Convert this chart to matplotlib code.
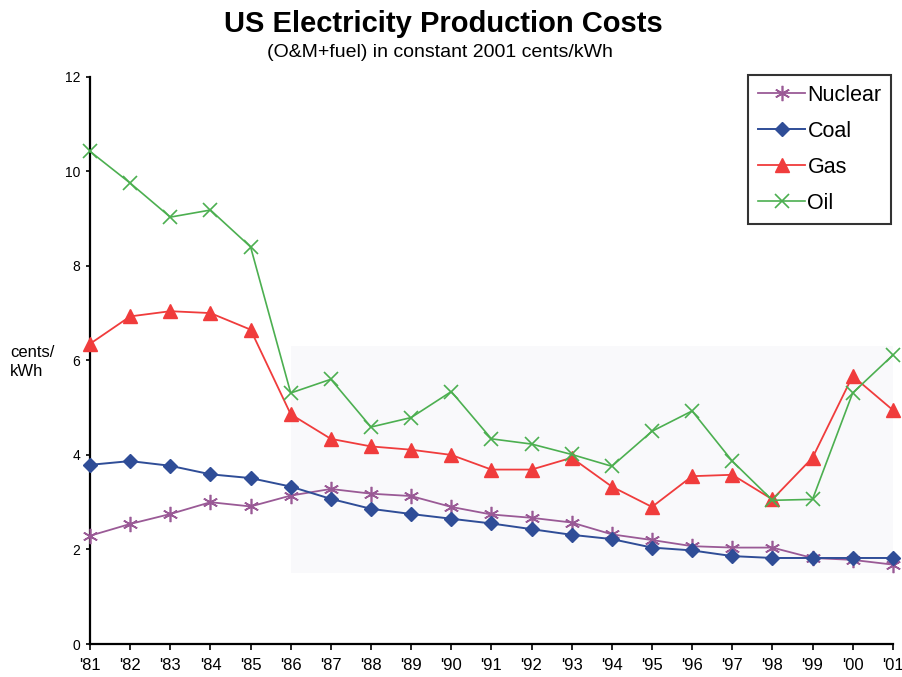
import matplotlib
matplotlib.use("Agg")
import matplotlib.pyplot as plt
from matplotlib.patches import Rectangle

plt.rcParams["font.family"] = ["Liberation Sans", "DejaVu Sans"]

years = ["'81", "'82", "'83", "'84", "'85", "'86", "'87", "'88", "'89", "'90",
         "'91", "'92", "'93", "'94", "'95", "'96", "'97", "'98", "'99", "'00", "'01"]

nuclear = [2.29, 2.54, 2.75, 3.00, 2.91, 3.14, 3.28, 3.18, 3.13, 2.90,
           2.74, 2.67, 2.57, 2.32, 2.20, 2.07, 2.04, 2.04, 1.82, 1.78, 1.68]
coal = [3.79, 3.87, 3.77, 3.59, 3.51, 3.33, 3.07, 2.86, 2.75, 2.65,
        2.55, 2.43, 2.31, 2.22, 2.04, 1.98, 1.86, 1.82, 1.82, 1.82, 1.82]
gas = [6.35, 6.93, 7.04, 7.00, 6.65, 4.86, 4.34, 4.18, 4.11, 4.00,
       3.69, 3.69, 3.94, 3.33, 2.90, 3.55, 3.58, 3.06, 3.94, 5.67, 4.95]
oil = [10.42, 9.75, 9.03, 9.18, 8.40, 5.31, 5.60, 4.59, 4.79, 5.34,
       4.34, 4.23, 4.01, 3.76, 4.50, 4.93, 3.87, 3.04, 3.06, 5.31, 6.11]

series = [
    ("Nuclear", nuclear, "#9a5a96", (6, 2, 0), 11, 1.3),
    ("Coal", coal, "#2f4d97", "D", 7.5, 1.4),
    ("Gas", gas, "#f03c3c", "^", 9.5, 1.3),
    ("Oil", oil, "#4caf50", "x", 10, 1.2),
]

fig = plt.figure(figsize=(9.03, 6.77), dpi=100)
ax = fig.add_axes([0.0997, 0.0487, 0.889, 0.838])

x = list(range(len(years)))

# faint grey box left over from the scanned original
ax.add_patch(Rectangle((5.0, 1.5), 16, 4.8, facecolor="#f9f9fb",
                       edgecolor="none", zorder=0))

for name, vals, color, marker, ms, lw in series:
    mew = 1.2 if marker in ("x", (6, 2, 0)) else 1.0
    ax.plot(x, vals, color=color, linewidth=lw, marker=marker, markersize=ms,
            markeredgewidth=mew, markeredgecolor=color, markerfacecolor=color,
            label=name, clip_on=False, zorder=3)

ax.set_xlim(0, len(years) - 1)
ax.set_ylim(0, 12)
ax.set_xticks(x)
ax.set_xticklabels(years, fontsize=12)
ax.set_yticks(range(0, 13, 2))
ax.tick_params(axis="y", labelsize=10, length=3, width=1.2, pad=4)
ax.tick_params(axis="x", length=4, width=1.2, pad=6)

for side in ("top", "right"):
    ax.spines[side].set_visible(False)
for side in ("left", "bottom"):
    ax.spines[side].set_linewidth(1.6)

ax.set_ylabel("cents/\nkWh", rotation=0, fontsize=12, ha="left", va="center",
              linespacing=1.3)
ax.yaxis.set_label_coords(-0.1, 0.497)

leg = ax.legend(loc="upper right", bbox_to_anchor=(0.998, 1.003), fontsize=15.5,
                frameon=True, fancybox=False, handlelength=2.2,
                handletextpad=0.1, borderpad=0.45, labelspacing=0.7,
                borderaxespad=0.0)
leg.get_frame().set_edgecolor("black")
leg.get_frame().set_linewidth(1.5)

fig.text(0.491, 0.965, "US Electricity Production Costs", ha="center",
         va="center", fontsize=21, fontweight="bold")
fig.text(0.487, 0.922, "(O&M+fuel) in constant 2001 cents/kWh", ha="center",
         va="center", fontsize=14)

fig.savefig("out.png", dpi=100)
plt.close(fig)
